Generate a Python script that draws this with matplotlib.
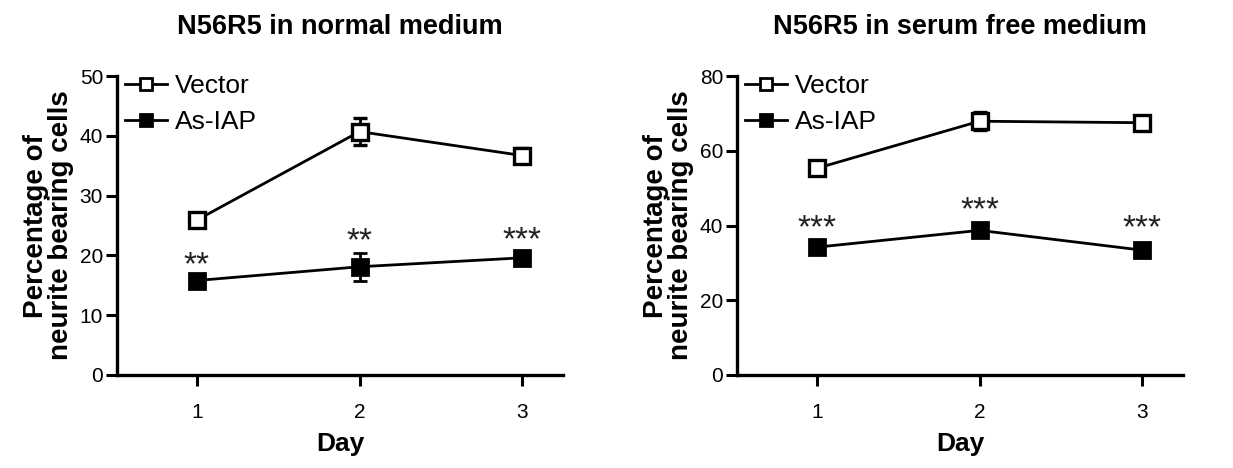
import matplotlib
matplotlib.use("Agg")
import matplotlib.pyplot as plt
from matplotlib.lines import Line2D

days = [1, 2, 3]

# Left panel: normal medium
left_title = "N56R5 in normal medium"
left_vector = [25.9, 40.7, 36.7]
left_vector_err = [0.6, 2.2, 1.2]
left_asiap = [15.8, 18.1, 19.6]
left_asiap_err = [0.5, 2.3, 0.5]
left_stars = ["**", "**", "***"]
left_star_y = [18.2, 22.2, 22.5]
left_yticks = [0, 10, 20, 30, 40, 50]

# Right panel: serum free medium
right_title = "N56R5 in serum free medium"
right_vector = [55.3, 67.9, 67.5]
right_vector_err = [0.6, 2.4, 0.6]
right_asiap = [34.2, 38.7, 33.4]
right_asiap_err = [0.5, 0.6, 1.6]
right_stars = ["***", "***", "***"]
right_star_y = [39.2, 44.0, 39.2]
right_yticks = [0, 20, 40, 60, 80]

plt.rcParams['font.family'] = ['Liberation Sans', 'DejaVu Sans']

fig = plt.figure(figsize=(12.33, 4.68), dpi=100)
W, H = 1233, 468

def make_ax(x0, x1):
    return fig.add_axes([x0 / W, 1 - 375 / H, (x1 - x0) / W, (375 - 76) / H])

panels = [
    (make_ax(117, 563), left_title, left_vector, left_vector_err, left_asiap, left_asiap_err,
     left_stars, left_star_y, left_yticks),
    (make_ax(737, 1183), right_title, right_vector, right_vector_err, right_asiap, right_asiap_err,
     right_stars, right_star_y, right_yticks),
]

for ax, title, vec, vec_err, asi, asi_err, stars, star_y, yticks in panels:
    ax.errorbar(days, vec, yerr=vec_err, color='black', lw=2, marker='s', ms=11,
                mfc='white', mec='black', mew=2.4, capsize=5, capthick=2, elinewidth=2,
                zorder=3)
    ax.errorbar(days, asi, yerr=asi_err, color='black', lw=2, marker='s', ms=11,
                mfc='black', mec='black', mew=2, capsize=5, capthick=2, elinewidth=2,
                zorder=3)
    for d, s, y in zip(days, stars, star_y):
        ax.text(d, y, s, ha='center', va='center', fontsize=24, color='#222222')
    ax.set_xlim(0.51, 3.25)
    ax.set_ylim(0, yticks[-1])
    ax.set_yticks(yticks)
    ax.set_xticks(days)
    ax.spines['top'].set_visible(False)
    ax.spines['right'].set_visible(False)
    ax.spines['left'].set_linewidth(2.4)
    ax.spines['bottom'].set_linewidth(2.4)
    ax.tick_params(axis='both', direction='out', length=8, width=2.2, labelsize=15, pad=2)
    ax.tick_params(axis='x', pad=12)
    ax.set_xlabel('Day', fontsize=19, fontweight='bold', labelpad=7)
    ax.set_ylabel('Percentage of\nneurite bearing cells', fontsize=20, fontweight='bold',
                  labelpad=4, linespacing=0.95)
    ax.set_title(title, fontsize=19.5, fontweight='bold', pad=30)
    handles = [
        Line2D([], [], color='black', lw=2, marker='s', ms=8.5, mfc='white', mec='black', mew=2),
        Line2D([], [], color='black', lw=2, marker='s', ms=8.5, mfc='black', mec='black', mew=2),
    ]
    ax.legend(handles, ['Vector', 'As-IAP'], loc='upper left', bbox_to_anchor=(0.018, 1.006),
              frameon=False, fontsize=19, handlelength=1.6, handletextpad=0.3,
              labelspacing=0.44, borderaxespad=0.0, borderpad=0.0)

fig.savefig('out.png', dpi=100)
